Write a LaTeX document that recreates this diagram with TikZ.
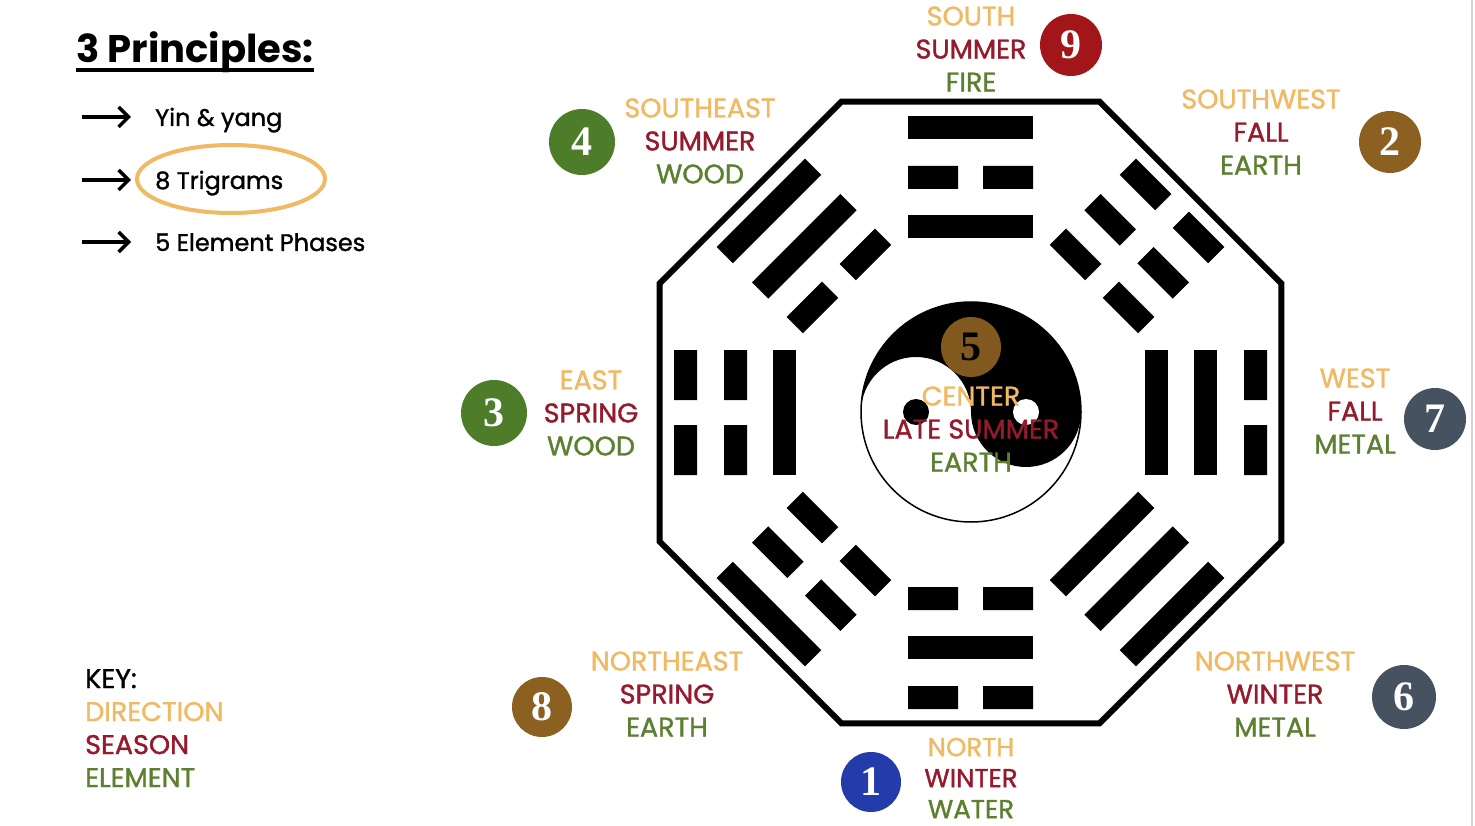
\documentclass[tikz,border=0pt]{standalone}
\usepackage{fontspec}
\setmainfont{Poppins}
\newfontfamily\lblfont{Poppins}[FakeBold=1.3]
\newfontfamily\digitfont{Liberation Serif}
\usetikzlibrary{arrows.meta}
\definecolor{dirc}{RGB}{240,185,100}
\definecolor{seac}{RGB}{148,26,44}
\definecolor{elec}{RGB}{92,128,48}
\definecolor{greenc}{RGB}{78,125,42}
\definecolor{brownc}{RGB}{140,96,32}
\definecolor{slatec}{RGB}{70,82,96}
\definecolor{redc}{RGB}{162,22,26}
\definecolor{bluec}{RGB}{35,60,170}
\newcommand\lbltext[3]{\textcolor{dirc}{#1}\\\textcolor{seac}{#2}\\\textcolor{elec}{#3}}
\newcommand\solidbar[1]{\fill (-62.5,#1-11.5) rectangle (62.5,#1+11.5);}
\newcommand\brokenbar[1]{\fill (-62.5,#1-11.5) rectangle (-12.5,#1+11.5) (12.5,#1-11.5) rectangle (62.5,#1+11.5);}
\begin{document}
\begin{tikzpicture}[x=1pt,y=-1pt,
  lbl/.style={align=center, inner sep=0pt, font=\lblfont\fontsize{27}{33}\selectfont},
  numc/.style={circle, inner sep=0pt, minimum size=62pt, text=white,
    font=\digitfont\bfseries\fontsize{42}{42}\selectfont},
  listtext/.style={anchor=base west, inner sep=0pt, font=\lblfont\fontsize{24}{28}\selectfont},
  bullet/.style={line width=3.5pt, -{Straight Barb[length=10pt,width=20pt]}}]
\fill[white] (0,0) rectangle (1475,826);
\useasboundingbox (0,0) rectangle (1475,826);
\draw[gray!35, line width=1.5pt] (1472,0) -- (1472,826);

% ---- left panel
\node[anchor=base west, inner sep=0pt, font=\bfseries\fontsize{38.5}{42}\selectfont] (hdr) at (76,63) {3 Principles:};
\draw[line width=4pt] ([yshift=-7pt]hdr.base west) -- ([yshift=-7pt]hdr.base east);
\coordinate (a1s) at (82,117); \coordinate (a1e) at (131,117);
\coordinate (a2s) at (82,180); \coordinate (a2e) at (131,180);
\coordinate (a3s) at (82,242); \coordinate (a3e) at (131,242);
\draw[bullet] (a1s) -- (a1e);
\draw[bullet] (a2s) -- (a2e);
\draw[bullet] (a3s) -- (a3e);
\node[listtext] (t1) at (155,126) {Yin \& yang};
\node[listtext] (t2) at (155,189) {8 Trigrams};
\node[listtext] (t3) at (155,251) {5 Element Phases};
\draw[dirc, line width=4pt] (231,179) ellipse [x radius=94, y radius=34];

\node[anchor=north west, align=left, inner sep=0pt, font=\lblfont\fontsize{27}{33}\selectfont] (key) at (85,669)
  {KEY:\\\textcolor{dirc}{DIRECTION}\\\textcolor{seac}{SEASON}\\\textcolor{elec}{ELEMENT}};

% ---- octagon
\begin{scope}[shift={(970.5,412.5)}]
\draw[line width=6pt, line join=miter] (22.5:336.6) -- (67.5:336.6) -- (112.5:336.6) -- (157.5:336.6)
  -- (202.5:336.6) -- (247.5:336.6) -- (292.5:336.6) -- (337.5:336.6) -- cycle;
\end{scope}

% ---- trigrams (outer, middle, inner)
\begin{scope}[shift={(970.5,412.5)}] % South: Li
\solidbar{-285}\brokenbar{-235}\solidbar{-186}
\end{scope}
\begin{scope}[shift={(970.5,412.5)}, rotate=45] % Southeast: Xun
\solidbar{-285}\solidbar{-235}\brokenbar{-186}
\end{scope}
\begin{scope}[shift={(970.5,412.5)}, rotate=90] % East: Zhen
\brokenbar{-285}\brokenbar{-235}\solidbar{-186}
\end{scope}
\begin{scope}[shift={(970.5,412.5)}, rotate=135] % Northeast: Gen
\solidbar{-285}\brokenbar{-235}\brokenbar{-186}
\end{scope}
\begin{scope}[shift={(970.5,412.5)}, rotate=180] % North: Kan
\brokenbar{-285}\solidbar{-235}\brokenbar{-186}
\end{scope}
\begin{scope}[shift={(970.5,412.5)}, rotate=225] % Northwest: Qian
\solidbar{-285}\solidbar{-235}\solidbar{-186}
\end{scope}
\begin{scope}[shift={(970.5,412.5)}, rotate=270] % West: Dui
\brokenbar{-285}\solidbar{-235}\solidbar{-186}
\end{scope}
\begin{scope}[shift={(970.5,412.5)}, rotate=315] % Southwest: Kun
\brokenbar{-285}\brokenbar{-235}\brokenbar{-186}
\end{scope}

% ---- yin yang
\begin{scope}[shift={(971,412)}, y={(0pt,1pt)}]
\fill[white] (0,0) circle[radius=110];
\fill[black] (-110,0) arc[start angle=180, end angle=0, radius=110]
  arc[start angle=0, end angle=-180, radius=55]
  arc[start angle=0, end angle=180, radius=55] -- cycle;
\fill[black] (-55,0) circle[radius=13];
\fill[white] (55,0) circle[radius=13];
\draw[line width=1.5pt] (0,0) circle[radius=110];
\end{scope}

% ---- number circles
\node[numc, fill=redc] (n9) at (1071,45) {9};
\node[numc, fill=brownc] (n2) at (1390,142) {2};
\node[numc, fill=slatec] (n7) at (1435,419) {7};
\node[numc, fill=slatec, minimum size=64pt] (n6) at (1404,697) {6};
\node[numc, fill=bluec, minimum size=60pt] (n1) at (871,782) {1};
\node[numc, fill=brownc, minimum size=60pt] (n8) at (542,707) {8};
\node[numc, fill=greenc, minimum size=66pt] (n3) at (494,413) {3};
\node[numc, fill=greenc, minimum size=66pt] (n4) at (582,142) {4};
\node[numc, fill=brownc, fill opacity=0.92, text opacity=1, text=black, minimum size=60pt] (n5) at (971,347) {5};

% ---- labels
\node[lbl] (ls) at (971,49) {\lbltext{SOUTH}{SUMMER}{FIRE}};
\node[lbl] (lse) at (700,141) {\lbltext{SOUTHEAST}{SUMMER}{WOOD}};
\node[lbl] (lsw) at (1261,132) {\lbltext{SOUTHWEST}{FALL}{EARTH}};
\node[lbl] (le) at (591,413) {\lbltext{EAST}{SPRING}{WOOD}};
\node[lbl] (lw) at (1355,411) {\lbltext{WEST}{FALL}{METAL}};
\node[lbl] (lne) at (667,694) {\lbltext{NORTHEAST}{SPRING}{EARTH}};
\node[lbl] (lnw) at (1275,694) {\lbltext{NORTHWEST}{WINTER}{METAL}};
\node[lbl, font=\lblfont\fontsize{26}{31}\selectfont] (ln) at (971,778) {\lbltext{NORTH}{WINTER}{WATER}};
\node[lbl] (lc) at (971,429) {\lbltext{CENTER}{LATE SUMMER}{EARTH}};
\end{tikzpicture}
\end{document}
